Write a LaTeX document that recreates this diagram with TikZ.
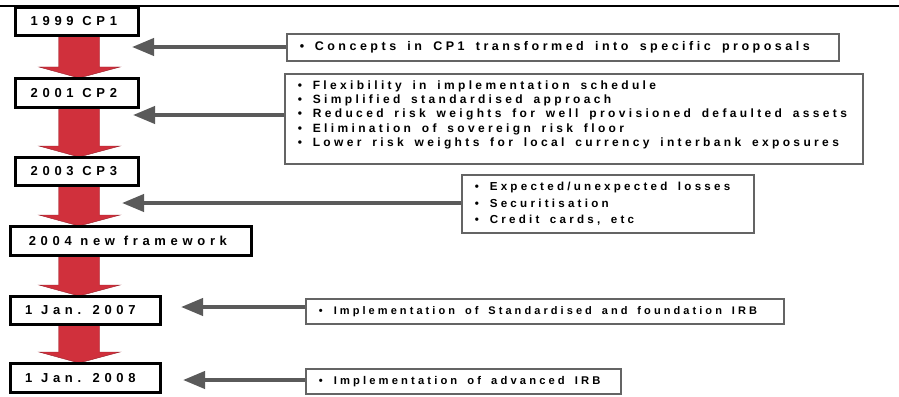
\documentclass[tikz,border=0pt]{standalone}
\usepackage{fontspec}
\setmainfont{Liberation Sans}
\newfontfamily\leftfont{Liberation Sans}[LetterSpace=36]
\newfontfamily\rightfont{Liberation Sans}[LetterSpace=28]
\usetikzlibrary{arrows.meta,calc}
\definecolor{redfill}{RGB}{208,48,60}
\definecolor{redline}{RGB}{150,30,40}
\definecolor{arrowgray}{RGB}{90,90,90}
\definecolor{boxgray}{RGB}{100,100,100}
\newcommand{\lfnt}{\leftfont\bfseries\fontsize{13}{15}\selectfont}
\newcommand{\rfnt}[2]{\rightfont\bfseries\fontsize{#1}{#2}\selectfont}
\newcommand{\lsp}{\spaceskip=8.7pt\relax}
\newcommand{\bul}{\spaceskip=0.9em\relax\makebox[15pt][l]{\textbullet}}
\tikzset{
  lbox/.style={draw=black, line width=1.8pt, fill=white, inner sep=0pt, anchor=north west,
    font=\lfnt},
  rbox/.style 2 args={draw=boxgray, line width=1.6pt, fill=white, inner ysep=0pt, inner xsep=13pt, anchor=north west,
    align=left, font={\rfnt{#1}{#2}}},
  garrow/.style={draw=arrowgray, line width=4pt, -{Triangle[length=22pt,width=17pt]}},
  redarrow/.style={fill=redfill, draw=redline, line width=0.4pt}
}
\newcommand{\downarrowshape}[2]{%
  \path[redarrow] let \p1=(#1.south), \p2=(#2.north) in
    (58.5pt,\y1) -- (99.5pt,\y1) -- (99.5pt,\y2+11pt) -- (120pt,\y2+11pt) -- (79pt,\y2)
    -- (39pt,\y2+11pt) -- (58.5pt,\y2+11pt) -- cycle;}
\begin{document}
\begin{tikzpicture}[x=1pt,y=-1pt]
\useasboundingbox (0,0) rectangle (899,396);
\draw[line width=2pt] (0,5.7) -- (899,5.7);
% left nodes
\node[lbox, minimum width=122pt, minimum height=27pt] (n1) at (15,7) {\lsp 1999 CP1\kern6pt};
\node[lbox, minimum width=122pt, minimum height=28pt] (n2) at (15,78) {\lsp 2001 CP2\kern6pt};
\node[lbox, minimum width=122pt, minimum height=27pt] (n3) at (15,157) {\lsp 2003 CP3\kern6pt};
\node[lbox, minimum width=240pt, minimum height=28pt] (n4) at (10,226) {\lsp 2004 new framework\kern6pt};
\node[lbox, minimum width=149pt, minimum height=27pt] (n5) at (10,296) {\lsp 1 Jan. 2007\kern10pt};
\node[lbox, minimum width=149pt, minimum height=28pt] (n6) at (10,363) {\lsp 1 Jan. 2008\kern10pt};
% red arrows, then node borders redrawn on top
\downarrowshape{n1}{n2}
\downarrowshape{n2}{n3}
\downarrowshape{n3}{n4}
\downarrowshape{n4}{n5}
\downarrowshape{n5}{n6}
\foreach \n in {n1,n2,n3,n4,n5,n6}{\draw[line width=1.8pt] (\n.north west) rectangle (\n.south east);}
% right boxes
\node[rbox={12.5}{14.5}, text width=526pt, minimum height=27pt] (r1) at (286,33)
  {\bul Concepts in CP1 transformed into specific proposals};
\node[rbox={12}{14.3}, text width=552pt, text height=15.5pt, text depth=74.5pt] (r2) at (284,73)
  {\bul Flexibility in implementation schedule\\
   \bul Simplified standardised approach\\
   \bul Reduced risk weights for well provisioned defaulted assets\\
   \bul Elimination of sovereign risk floor\\
   \bul Lower risk weights for local currency interbank exposures};
\node[rbox={11.6}{16.5}, text width=266pt, minimum height=58pt] (r3) at (461,174)
  {\bul Expected/unexpected losses\\
   \bul Securitisation\\
   \bul Credit cards, etc};
\node[rbox={11}{13}, text width=452pt, minimum height=25pt] (r4) at (305,298)
  {\bul Implementation of Standardised and foundation IRB};
\node[rbox={11.2}{13}, text width=289pt, minimum height=25pt] (r5) at (305,368)
  {\bul Implementation of advanced IRB};
% gray connectors
\coordinate (t1) at (132,47);
\coordinate (t2) at (133,115);
\coordinate (t3) at (122,203);
\coordinate (t4) at (181,307);
\coordinate (t5) at (183,380);
\draw[garrow] (r1.west |- t1) -- (t1);
\draw[garrow] (r2.west |- t2) -- (t2);
\draw[garrow] (r3.west |- t3) -- (t3);
\draw[garrow] (r4.west |- t4) -- (t4);
\draw[garrow] (r5.west |- t5) -- (t5);
\end{tikzpicture}
\end{document}
